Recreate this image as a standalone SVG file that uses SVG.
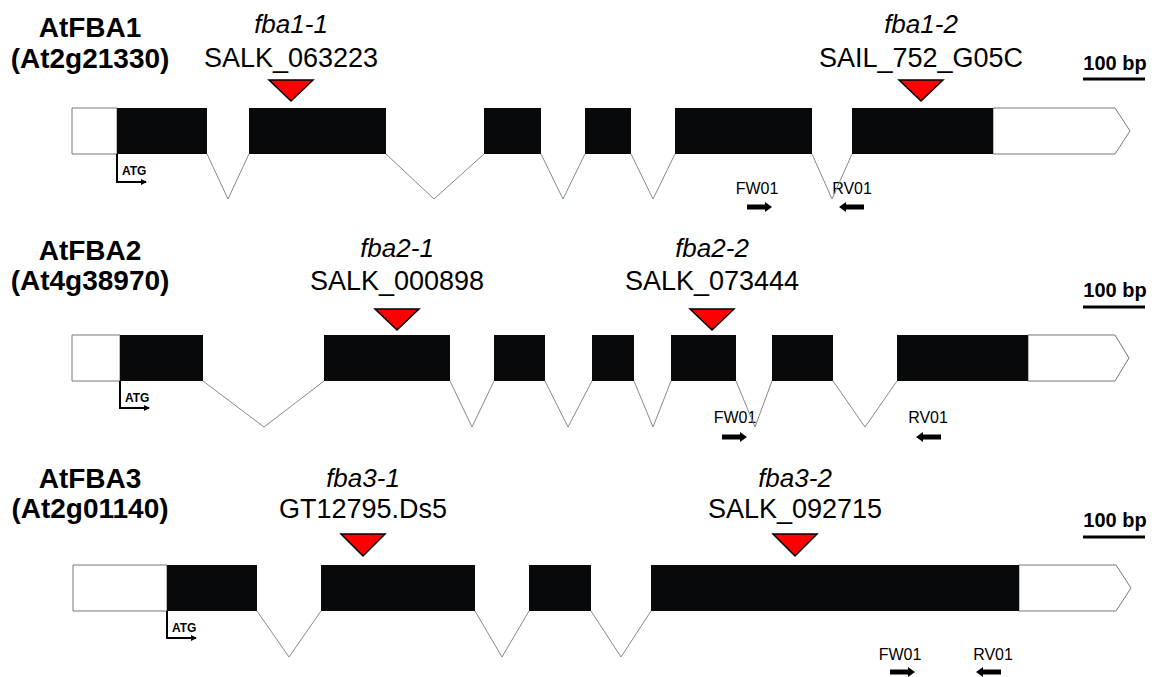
<svg xmlns="http://www.w3.org/2000/svg" xmlns:xlink="http://www.w3.org/1999/xlink" width="1155" height="677" viewBox="0 0 1155 677">
<style>
text{font-family:"Liberation Sans",Arial,sans-serif;fill:#000}
.title{font-size:28px;font-weight:bold;text-anchor:middle}
.allele{font-size:26px;font-style:italic;text-anchor:middle}
.line{font-size:27px;text-anchor:middle}
.bp{font-size:20px;font-weight:bold;text-anchor:middle}
.atg{font-size:12px;font-weight:bold}
.primer{font-size:16px;text-anchor:middle}
.utr{fill:#fff;stroke:#777;stroke-width:1}
.exon{fill:#08090a;stroke:none}
.intron{fill:none;stroke:#7f8c8c;stroke-width:1}
.ins{fill:#ff0000;stroke:#000;stroke-width:1.5;stroke-linejoin:miter}
.scale{stroke:#000;stroke-width:3}
.tss{fill:none;stroke:#000;stroke-width:2}
</style>
<defs>
<marker id="ah" markerWidth="6" markerHeight="6" refX="5" refY="3" orient="auto" markerUnits="userSpaceOnUse">
<path d="M0,0 L6,3 L0,6 Z" fill="#000"/>
</marker>
<path id="pr" d="M0,-2.5 H18 V-5 L25,0 L18,5 V2.5 H0 Z" fill="#000"/>
</defs>
<rect width="1155" height="677" fill="#fff"/>

<g id="gene1">
<text class="title" x="90" y="37">AtFBA1</text>
<text class="title" x="90" y="68">(At2g21330)</text>
<path class="utr" d="M72,108 H117 V154 H72 Z"/>
<path class="utr" d="M993,108 H1115 L1130,131 L1115,154 H993 Z"/>
<rect class="exon" x="117" y="108" width="90" height="46"/>
<rect class="exon" x="249" y="108" width="137" height="46"/>
<rect class="exon" x="484" y="108" width="57" height="46"/>
<rect class="exon" x="585" y="108" width="46" height="46"/>
<rect class="exon" x="675" y="108" width="137" height="46"/>
<rect class="exon" x="852" y="108" width="141" height="46"/>
<path class="tss" d="M117,154 V182 H146" marker-end="url(#ah)"/>
<text class="atg" x="122" y="175">ATG</text>
<text class="allele" x="291" y="33">fba1-1</text>
<text class="line" x="291" y="67">SALK_063223</text>
<path class="ins" d="M269,80 H313 L291,101 Z"/>
<text class="allele" x="921" y="33">fba1-2</text>
<text class="line" x="921" y="67">SAIL_752_G05C</text>
<path class="ins" d="M899,80 H943 L921,101 Z"/>
<text class="primer" x="757" y="194">FW01</text>
<use xlink:href="#pr" href="#pr" transform="translate(747,207)"/>
<text class="primer" x="852" y="194">RV01</text>
<use xlink:href="#pr" href="#pr" transform="translate(864,207) scale(-1,1)"/>
<text class="bp" x="1115" y="70">100 bp</text>
<line class="scale" x1="1083" y1="79" x2="1145" y2="79"/>
</g>

<g id="gene2">
<text class="title" x="90" y="260">AtFBA2</text>
<text class="title" x="90" y="290">(At4g38970)</text>
<path class="utr" d="M72,335 H120 V381 H72 Z"/>
<path class="utr" d="M1028,335 H1115 L1129,358 L1115,381 H1028 Z"/>
<rect class="exon" x="120" y="335" width="83" height="46"/>
<rect class="exon" x="324" y="335" width="126" height="46"/>
<rect class="exon" x="494" y="335" width="51" height="46"/>
<rect class="exon" x="592" y="335" width="42" height="46"/>
<rect class="exon" x="671" y="335" width="65" height="46"/>
<rect class="exon" x="772" y="335" width="61" height="46"/>
<rect class="exon" x="897" y="335" width="131" height="46"/>
<path class="tss" d="M120,381 V408 H149" marker-end="url(#ah)"/>
<text class="atg" x="125" y="402">ATG</text>
<text class="allele" x="397" y="257">fba2-1</text>
<text class="line" x="397" y="290">SALK_000898</text>
<path class="ins" d="M375,309 H419 L397,330 Z"/>
<text class="allele" x="712" y="257">fba2-2</text>
<text class="line" x="712" y="290">SALK_073444</text>
<path class="ins" d="M690,309 H734 L712,330 Z"/>
<text class="primer" x="735" y="423">FW01</text>
<use xlink:href="#pr" href="#pr" transform="translate(722,437)"/>
<text class="primer" x="928" y="423">RV01</text>
<use xlink:href="#pr" href="#pr" transform="translate(941,437) scale(-1,1)"/>
<text class="bp" x="1115" y="297">100 bp</text>
<line class="scale" x1="1083" y1="307" x2="1145" y2="307"/>
</g>

<g id="gene3">
<text class="title" x="90" y="488">AtFBA3</text>
<text class="title" x="90" y="518">(At2g01140)</text>
<path class="utr" d="M73,565 H167 V611 H73 Z"/>
<path class="utr" d="M1019,565 H1116 L1131,588 L1116,611 H1019 Z"/>
<rect class="exon" x="167" y="565" width="90" height="46"/>
<rect class="exon" x="321" y="565" width="154" height="46"/>
<rect class="exon" x="529" y="565" width="62" height="46"/>
<rect class="exon" x="651" y="565" width="368" height="46"/>
<path class="tss" d="M167,611 V638 H196" marker-end="url(#ah)"/>
<text class="atg" x="172" y="632">ATG</text>
<text class="allele" x="363" y="487">fba3-1</text>
<text class="line" x="363" y="518">GT12795.Ds5</text>
<path class="ins" d="M341,534 H385 L363,556 Z"/>
<text class="allele" x="795" y="487">fba3-2</text>
<text class="line" x="795" y="518">SALK_092715</text>
<path class="ins" d="M773,534 H817 L795,556 Z"/>
<text class="primer" x="900" y="660">FW01</text>
<use xlink:href="#pr" href="#pr" transform="translate(890,672)"/>
<text class="primer" x="993" y="660">RV01</text>
<use xlink:href="#pr" href="#pr" transform="translate(1001,672) scale(-1,1)"/>
<text class="bp" x="1115" y="527">100 bp</text>
<line class="scale" x1="1083" y1="537" x2="1145" y2="537"/>
</g>

<g id="connectors">
<polyline class="intron" points="207,154 228,199 249,154"/>
<polyline class="intron" points="386,154 434,199 484,154"/>
<polyline class="intron" points="541,154 563,199 585,154"/>
<polyline class="intron" points="631,154 653,199 675,154"/>
<polyline class="intron" points="812,154 832,199 852,154"/>
<polyline class="intron" points="203,381 264,427 324,381"/>
<polyline class="intron" points="450,381 472,427 494,381"/>
<polyline class="intron" points="545,381 568,427 592,381"/>
<polyline class="intron" points="634,381 653,427 671,381"/>
<polyline class="intron" points="736,381 755,427 772,381"/>
<polyline class="intron" points="833,381 865,427 897,381"/>
<polyline class="intron" points="257,611 289,657 321,611"/>
<polyline class="intron" points="475,611 502,657 529,611"/>
<polyline class="intron" points="591,611 621,657 651,611"/>
</g>
</svg>
